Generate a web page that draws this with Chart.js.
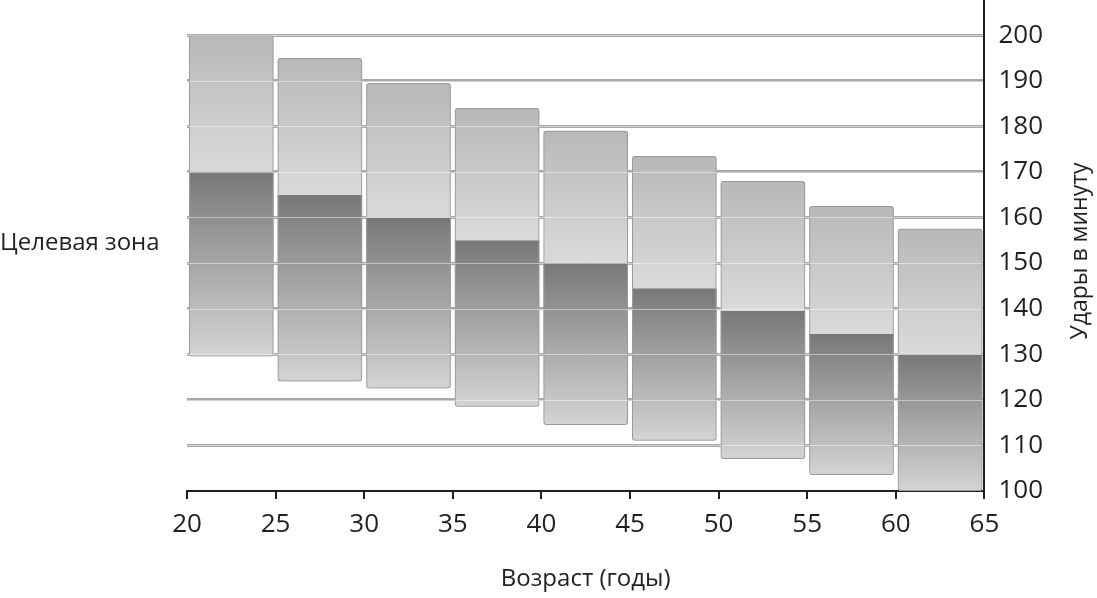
<!DOCTYPE html>
<html>
<head>
<meta charset="utf-8">
<script src="https://cdn.jsdelivr.net/npm/chart.js@4.4.1/dist/chart.umd.min.js"></script>
<style>
  html, body { margin: 0; padding: 0; background: #fff; }
  #wrap { width: 1097px; height: 598px; position: relative; }
</style>
</head>
<body>
<div id="wrap"><canvas id="chart"></canvas></div>
<script>
// age groups (left edge of each 5-year bin)
var ages = ['20', '25', '30', '35', '40', '45', '50', '55', '60'];
var xTicks = [20, 25, 30, 35, 40, 45, 50, 55, 60, 65];
var yTicks = [100, 110, 120, 130, 140, 150, 160, 170, 180, 190, 200];

// heart rate, beats per minute
var maxRate    = [200, 195, 189.5, 184, 179, 173.5, 168, 162.5, 157.5];
var zoneTop    = [170, 165, 160, 155, 150, 144.5, 139.5, 134.5, 130];
var zoneBottom = [129.5, 124, 122.5, 118.5, 114.5, 111, 107, 103.5, 100];

var textColor = '#231f20';
var fontFamily = '"Open Sans", sans-serif';

function pairs(a, b) {
  return a.map(function (v, i) { return [v, b[i]]; });
}

// vertical gradient across one floating bar
function grad(cTop, cBottom) {
  return function (c) {
    var chart = c.chart;
    if (!chart.chartArea || !c.raw) return cBottom;
    var y = chart.scales.y;
    var g = chart.ctx.createLinearGradient(0, y.getPixelForValue(c.raw[1]), 0, y.getPixelForValue(c.raw[0]));
    g.addColorStop(0, cTop);
    g.addColorStop(1, cBottom);
    return g;
  };
}

// light centre stripe of the grid lines, drawn over the bars
var gridHighlight = {
  id: 'gridHighlight',
  afterDatasetsDraw: function (chart) {
    var ctx = chart.ctx, y = chart.scales.y, area = chart.chartArea;
    ctx.save();
    ctx.strokeStyle = 'rgba(255,255,255,0.45)';
    ctx.lineWidth = 1;
    yTicks.forEach(function (v) {
      if (v === 100) return;
      var py = Math.round(y.getPixelForValue(v)) + 0.5;
      ctx.beginPath();
      ctx.moveTo(area.left, py);
      ctx.lineTo(area.right, py);
      ctx.stroke();
    });
    ctx.restore();
  }
};

var sideLabels = {
  id: 'sideLabels',
  afterDraw: function (chart) {
    var ctx = chart.ctx;
    ctx.save();
    ctx.fillStyle = textColor;
    ctx.font = '24px ' + fontFamily;
    ctx.textBaseline = 'middle';
    ctx.textAlign = 'left';
    ctx.fillText('Целевая зона', 0, 243);
    ctx.font = '23px ' + fontFamily;
    ctx.translate(1080, 251);
    ctx.rotate(-Math.PI / 2);
    ctx.textAlign = 'center';
    ctx.fillText('Удары в минуту', 0, 0);
    ctx.restore();
  }
};

var barCommon = {
  xAxisID: 'xb',
  yAxisID: 'y',
  barPercentage: 0.955,
  categoryPercentage: 1,
  grouped: false,
  borderSkipped: false
};

new Chart(document.getElementById('chart'), {
  type: 'bar',
  data: {
    labels: ages,
    datasets: [
      Object.assign({
        label: 'outline',
        data: pairs(zoneBottom, maxRate),
        backgroundColor: 'rgba(0,0,0,0)',
        borderColor: '#9a9a9a',
        borderWidth: 1,
        borderRadius: 3
      }, barCommon),
      Object.assign({
        label: 'upper',
        data: pairs(zoneTop, maxRate),
        backgroundColor: grad('#b8b8b8', '#dadada'),
        borderWidth: 0,
        borderRadius: { topLeft: 3, topRight: 3, bottomLeft: 0, bottomRight: 0 }
      }, barCommon),
      Object.assign({
        label: 'zone',
        data: pairs(zoneBottom, zoneTop),
        backgroundColor: grad('#787878', '#d4d4d4'),
        borderWidth: 0,
        borderRadius: { topLeft: 0, topRight: 0, bottomLeft: 3, bottomRight: 3 }
      }, barCommon)
    ]
  },
  options: {
    responsive: true,
    maintainAspectRatio: false,
    animation: false,
    layout: { padding: { left: 187, right: 40, top: 0, bottom: 4 } },
    plugins: {
      legend: { display: false },
      tooltip: { enabled: false }
    },
    scales: {
      xb: {
        type: 'category',
        display: false,
        offset: true
      },
      x: {
        type: 'linear',
        position: 'bottom',
        min: 20,
        max: 65,
        offset: false,
        afterBuildTicks: function (axis) {
          axis.ticks = xTicks.map(function (v) { return { value: v }; });
        },
        grid: {
          offset: false,
          drawOnChartArea: false,
          drawTicks: true,
          tickLength: 8,
          color: textColor,
          lineWidth: 2
        },
        border: { color: textColor, width: 2 },
        ticks: {
          color: textColor,
          font: { family: fontFamily, size: 26 },
          padding: 10,
          maxRotation: 0
        },
        title: {
          display: true,
          text: 'Возраст (годы)',
          color: textColor,
          font: { family: fontFamily, size: 24 },
          padding: { top: 15, bottom: 0 }
        }
      },
      y: {
        type: 'linear',
        position: 'right',
        min: 100,
        max: 207.7,
        afterBuildTicks: function (axis) {
          axis.ticks = yTicks.map(function (v) { return { value: v }; });
        },
        afterFit: function (axis) {
          // let the plot reach the top edge of the canvas
          axis.paddingTop = 0;
          axis.paddingBottom = 0;
        },
        grid: {
          color: function (c) { return c.tick && c.tick.value === 100 ? 'rgba(0,0,0,0)' : '#a9a9a9'; },
          lineWidth: 3,
          drawTicks: false
        },
        border: { color: textColor, width: 2, z: 2 },
        ticks: {
          color: textColor,
          font: { family: fontFamily, size: 26 },
          padding: 14
        }
      }
    }
  },
  plugins: [gridHighlight, sideLabels]
});
</script>
</body>
</html>
